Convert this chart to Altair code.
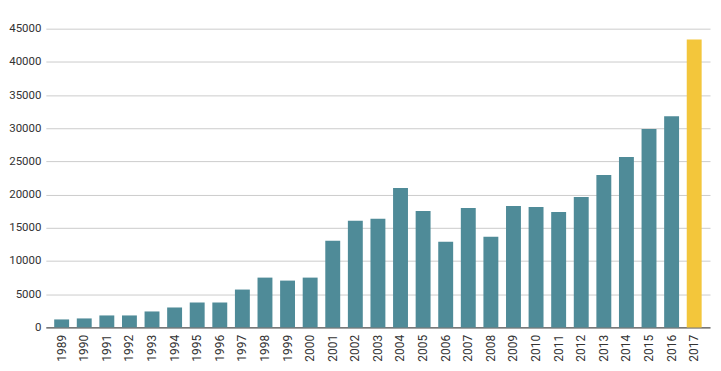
import altair as alt
import pandas as pd

years = [str(y) for y in range(1989, 2018)]
values = [1200, 1350, 1800, 1800, 2400, 3000, 3750, 3750, 5700, 7500,
          7050, 7500, 13050, 16050, 16350, 21000, 17550, 12900, 18000, 13650,
          18300, 18150, 17400, 19650, 22950, 25650, 29900, 31800, 43350]
highlight = ["no"] * 28 + ["yes"]

df = pd.DataFrame({"year": years, "value": values, "hl": highlight})

chart = alt.Chart(df).mark_bar().encode(
    x=alt.X("year:N", title=None, sort=None,
            scale=alt.Scale(paddingInner=0.34, paddingOuter=0.37),
            axis=alt.Axis(labelAngle=-90, ticks=False, domain=True,
                          domainColor="#333333", labelPadding=7,
                          labelColor="#333333", labelFontSize=12,
                          labelFont="Roboto", labelBaseline="middle", labelAlign="right")),
    y=alt.Y("value:Q", title=None,
            scale=alt.Scale(domain=[0, 45000], nice=False),
            axis=alt.Axis(values=list(range(0, 45001, 5000)), ticks=False, domain=False,
                          format="d",
                          gridColor="#cccccc", labelColor="#333333", labelFontSize=11.5,
                          labelFont="Roboto", labelPadding=5)),
    color=alt.Color("hl:N", legend=None,
                    scale=alt.Scale(domain=["no", "yes"], range=["#4f8b98", "#f3c63b"])),
).properties(
    width=667, height=300,
    padding={"left": 0, "top": 14, "right": 3, "bottom": 0},
).configure_view(stroke=None)

chart.save("out.html", embed_options={"renderer": "svg", "actions": False})
